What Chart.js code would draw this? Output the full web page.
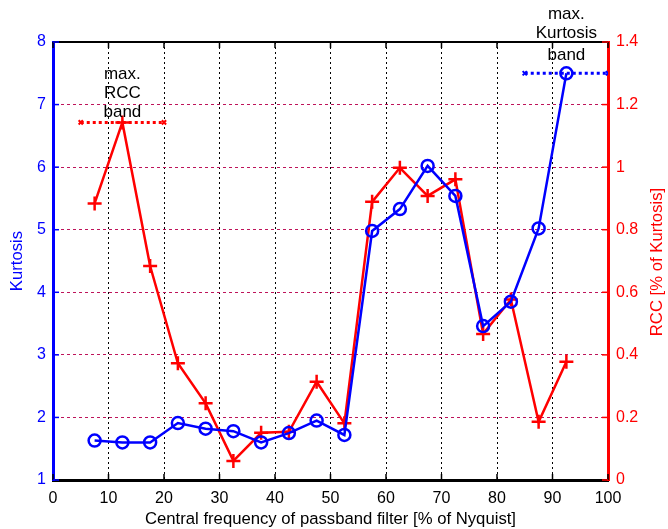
<!DOCTYPE html>
<html><head><meta charset="utf-8">
<script src="https://cdn.jsdelivr.net/npm/chart.js@4/dist/chart.umd.min.js"></script>
<style>html,body{margin:0;padding:0;background:#fff}#wrap{width:668px;height:529px;position:relative}</style>
</head><body><div id="wrap"><canvas id="c" width="668" height="529"></canvas></div>
<script>
const freqs = [7.5,12.5,17.5,22.5,27.5,32.5,37.5,42.5,47.5,52.5,57.5,62.5,67.5,72.5,77.5,82.5,87.5,92.5];
const kurtosis = [1.63,1.60,1.60,1.91,1.82,1.78,1.60,1.75,1.95,1.72,4.98,5.33,6.02,5.54,3.46,3.85,5.02,7.50];
const rcc = [0.884,1.143,0.684,0.373,0.245,0.061,0.151,0.154,0.314,0.181,0.889,0.998,0.908,0.961,0.467,0.577,0.186,0.378];
const rccBandX = [5,20];
const rccBandY = 1.143;
const kurtBandX = [85,100];
const kurtBandY = 7.5;
const xTicks = [0,10,20,30,40,50,60,70,80,90,100];
const kurtTicks = [1,2,3,4,5,6,7,8];
const rccTicks = [0,0.2,0.4,0.6,0.8,1,1.2,1.4];
const rccNote = {x:12.5, lines:["max.","RCC","band"], ys:[7.48,7.18,6.88]};
const kurtNote = {x:92.5, lines:["max.","Kurtosis","band"], ys:[8.45,8.14,7.79]};
const rightTitle = 'RCC [% of Kurtosis]';

const FONT = "'Liberation Sans', Arial, sans-serif";
Chart.defaults.font.family = FONT;
Chart.defaults.font.size = 16;

const xy = (xs, ys) => xs.map((x,i)=>({x:x,y:ys[i]}));
const fmt = v => String(+(+v).toFixed(1));

const overlay = {
  id:'overlay',
  afterDatasetsDraw(chart){
    const ctx = chart.ctx, a = chart.chartArea;
    const xs = chart.scales.x, ys = chart.scales.y, y2 = chart.scales.y2;
    ctx.save();
    ctx.strokeStyle='#000'; ctx.lineWidth=2; ctx.setLineDash([]);
    ctx.beginPath(); ctx.moveTo(a.left,a.top); ctx.lineTo(a.right,a.top); ctx.stroke();
    ctx.lineWidth=1.5;
    xTicks.forEach(v=>{const p=xs.getPixelForValue(v);
      ctx.beginPath();ctx.moveTo(p,a.bottom);ctx.lineTo(p,a.bottom-6);ctx.stroke();
      ctx.beginPath();ctx.moveTo(p,a.top);ctx.lineTo(p,a.top+6);ctx.stroke();});
    ctx.strokeStyle='#0000ff';
    kurtTicks.forEach(v=>{const p=ys.getPixelForValue(v);
      ctx.beginPath();ctx.moveTo(a.left,p);ctx.lineTo(a.left+6,p);ctx.stroke();});
    ctx.strokeStyle='#ff0000';
    rccTicks.forEach(v=>{const p=y2.getPixelForValue(v);
      ctx.beginPath();ctx.moveTo(a.right,p);ctx.lineTo(a.right-6,p);ctx.stroke();});
    ctx.fillStyle='#000'; ctx.font='17px '+FONT; ctx.textAlign='center'; ctx.textBaseline='middle';
    [rccNote,kurtNote].forEach(n=>{
      n.lines.forEach((t,i)=>ctx.fillText(t, xs.getPixelForValue(n.x), ys.getPixelForValue(n.ys[i])));
    });
    // right axis title, reading bottom-to-top
    ctx.font='16.7px '+FONT; ctx.fillStyle='#ff0000';
    ctx.translate(y2.right - 11, (a.top + a.bottom)/2 + 1);
    ctx.rotate(-Math.PI/2);
    ctx.fillText(rightTitle, 0, 0);
    ctx.restore();
  }
};

new Chart(document.getElementById('c'), {
  type:'line',
  data:{datasets:[
    {data:xy(rccBandX,[rccBandY,rccBandY]), yAxisID:'y2', borderColor:'#ff0000', borderWidth:3, borderDash:[3,3],
     pointStyle:'crossRot', pointRadius:3, pointBorderWidth:2, pointBorderColor:'#ff0000', fill:false},
    {data:xy(kurtBandX,[kurtBandY,kurtBandY]), yAxisID:'y', borderColor:'#0000ff', borderWidth:3, borderDash:[3,3],
     pointStyle:'crossRot', pointRadius:3, pointBorderWidth:2, pointBorderColor:'#0000ff', fill:false},
    {data:xy(freqs,kurtosis), yAxisID:'y', borderColor:'#0000ff', borderWidth:2.5,
     pointStyle:'circle', pointRadius:6, pointBorderWidth:2.5, pointBorderColor:'#0000ff', pointBackgroundColor:'rgba(255,255,255,0)', fill:false, tension:0},
    {data:xy(freqs,rcc), yAxisID:'y2', borderColor:'#ff0000', borderWidth:2.5,
     pointStyle:'cross', pointRadius:7, pointBorderWidth:2.5, pointBorderColor:'#ff0000', fill:false, tension:0}
  ]},
  options:{
    responsive:false, animation:false, devicePixelRatio:1,
    layout:{padding:{top:42,left:0,right:0,bottom:0}},
    plugins:{legend:{display:false}, tooltip:{enabled:false}},
    scales:{
      x:{type:'linear', min:0, max:100, afterBuildTicks:s=>{s.ticks=xTicks.map(v=>({value:v}));},
         afterFit:s=>{s.height=49;},
         ticks:{color:'#000', padding:9, maxRotation:0, font:{size:16}, callback:fmt},
         grid:{color:'#000', lineWidth:1, drawTicks:false},
         border:{color:'#000', width:3, dash:[2,3]},
         title:{display:true, text:'Central frequency of passband filter [% of Nyquist]', color:'#000', font:{size:16.7}, padding:{top:1,bottom:0}}},
      y:{type:'linear', position:'left', min:1, max:8, afterBuildTicks:s=>{s.ticks=kurtTicks.map(v=>({value:v}));},
         afterFit:s=>{s.width=53;},
         ticks:{color:'#0000ff', padding:7, font:{size:16}, callback:fmt},
         grid:{color:'rgba(190,20,90,1)', lineWidth:1, drawTicks:false},
         border:{color:'#0000ff', width:3, dash:[3,3]},
         title:{display:true, text:'Kurtosis', color:'#0000ff', font:{size:16.7}, padding:{top:7,bottom:4}}},
      y2:{type:'linear', position:'right', min:0, max:1.4, afterBuildTicks:s=>{s.ticks=rccTicks.map(v=>({value:v}));},
         afterFit:s=>{s.width=60;},
         ticks:{color:'#ff0000', padding:8, font:{size:16}, callback:fmt},
         grid:{drawOnChartArea:false, drawTicks:false},
         border:{color:'#ff0000', width:3},
         title:{display:false}}
    }
  },
  plugins:[overlay]
});
</script></body></html>
